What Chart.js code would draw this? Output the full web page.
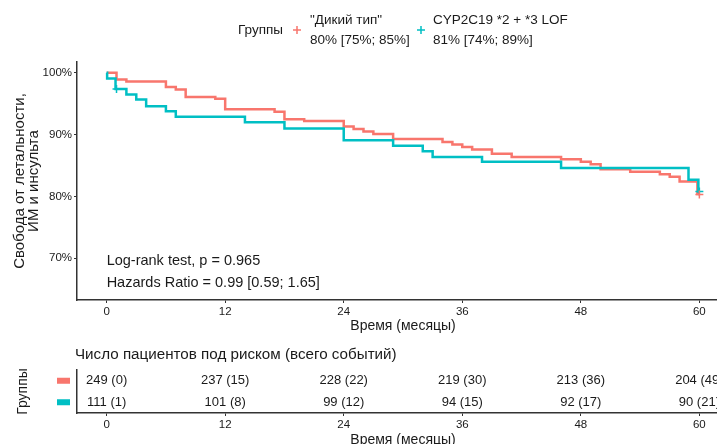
<!DOCTYPE html>
<html>
<head>
<meta charset="utf-8">
<script src="https://cdn.jsdelivr.net/npm/chart.js@4.4.1/dist/chart.umd.min.js"></script>
<style>
html, body { margin: 0; padding: 0; background: #fff; overflow: hidden; width: 717px; height: 444px; }
#main { position: absolute; left: 0; top: 0; }
#risk { position: absolute; left: 0; top: 340px; }
</style>
</head>
<body>
<canvas id="main" width="760" height="340" style="width:760px;height:340px"></canvas>
<canvas id="risk" width="760" height="120" style="width:760px;height:120px"></canvas>
<script>
// ---------- Data ----------
const groupNames = ['"Дикий тип"', 'CYP2C19 *2 + *3 LOF'];
const groupSurvText = ['80% [75%; 85%]', '81% [74%; 89%]'];

// Kaplan-Meier steps (months, % survival after the step)
const redTimes = [0, 1, 2, 6, 7, 8, 11, 12, 17, 18, 20, 24, 25, 26, 27, 29, 34, 35, 36, 37, 39, 41, 46, 48, 49, 50, 53, 56, 57, 58, 59.8, 60];
const redSurv  = [100, 98.9, 98.6, 97.7, 97.3, 96.1, 95.8, 94.1, 93.7, 92.5, 92.2, 91.3, 90.9, 90.5, 90.1, 89.3, 88.8, 88.4, 88.0, 87.6, 86.9, 86.4, 86.0, 85.6, 85.2, 84.4, 84.0, 83.6, 83.2, 82.4, 80.4, 80.4];

const cyanTimes = [0, 0.05, 0.9, 2, 3, 4, 6, 7, 14, 18, 24, 29, 32, 33, 38, 46, 58.9, 59.9, 60];
const cyanSurv  = [100, 99.1, 97.4, 96.5, 95.7, 94.6, 93.8, 92.9, 92.0, 91.0, 89.1, 88.2, 87.3, 86.4, 85.6, 84.6, 82.7, 80.8, 80.8];

// censored marks
const redCensorTimes = [60];
const redCensorSurv = [80.3];
const cyanCensorTimes = [1, 60];
const cyanCensorSurv = [97.4, 80.8];

const xTicks = [0, 12, 24, 36, 48, 60];
const yTicks = [70, 80, 90, 100];

// risk table
const riskRed = [249, 237, 228, 219, 213, 204];
const eventsRed = [0, 15, 22, 30, 36, 49];
const riskCyan = [111, 101, 99, 94, 92, 90];
const eventsCyan = [1, 8, 12, 15, 17, 21];

const statLines = ['Log-rank test, p = 0.965', 'Hazards Ratio = 0.99 [0.59; 1.65]'];

// ---------- Styles ----------
const RED = '#F8766D';
const CYAN = '#00BFC4';
const FONT = "'Liberation Sans', Arial, sans-serif";
const TXT = '#1a1a1a';
const AXIS = '#333333';

function pts(xs, ys) { return xs.map((x, i) => ({ x: x, y: ys[i] })); }

function drawPlus(ctx, x, y, r, color) {
    ctx.save();
    ctx.strokeStyle = color;
    ctx.lineWidth = 1.5;
    ctx.beginPath();
    ctx.moveTo(x - r, y); ctx.lineTo(x + r, y);
    ctx.moveTo(x, y - r); ctx.lineTo(x, y + r);
    ctx.stroke();
    ctx.restore();
}

// ---------- Main chart ----------
const mainDecor = {
    id: 'mainDecor',
    afterDraw(chart) {
        const ctx = chart.ctx;
        const xs = chart.scales.x;
        ctx.save();
        ctx.fillStyle = TXT;
        ctx.textBaseline = 'middle';
        ctx.textAlign = 'left';
        ctx.font = '13.5px ' + FONT;
        ctx.fillText('Группы', 238, 30);
        drawPlus(ctx, 297, 30, 4, RED);
        ctx.fillStyle = TXT;
        ctx.fillText(groupNames[0], 310, 20);
        ctx.fillText(groupSurvText[0], 310, 40);
        drawPlus(ctx, 421, 30, 4, CYAN);
        ctx.fillStyle = TXT;
        ctx.fillText(groupNames[1], 433, 20);
        ctx.fillText(groupSurvText[1], 433, 40);

        // stats text
        ctx.font = '14.5px ' + FONT;
        const x0 = xs.getPixelForValue(0);
        ctx.fillText(statLines[0], x0, chart.chartArea.bottom - 39);
        ctx.fillText(statLines[1], x0, chart.chartArea.bottom - 17);
        ctx.restore();
    }
};

new Chart(document.getElementById('main'), {
    type: 'line',
    data: {
        datasets: [
            { data: pts(redTimes, redSurv), borderColor: RED, borderWidth: 2.5, stepped: 'before', pointRadius: 0, fill: false, order: 2 },
            { data: pts(cyanTimes, cyanSurv), borderColor: CYAN, borderWidth: 2.5, stepped: 'before', pointRadius: 0, fill: false, order: 1 },
            { data: pts(redCensorTimes, redCensorSurv), showLine: false, pointStyle: 'cross', pointRadius: 4, borderColor: RED, borderWidth: 1.5, order: 0 },
            { data: pts(cyanCensorTimes, cyanCensorSurv), showLine: false, pointStyle: 'cross', pointRadius: 4, borderColor: CYAN, borderWidth: 1.5, order: 0 }
        ]
    },
    options: {
        responsive: false,
        animation: false,
        devicePixelRatio: 1,
        layout: { padding: { top: 62, right: 31, left: 0, bottom: 0 } },
        plugins: { legend: { display: false }, tooltip: { enabled: false } },
        scales: {
            x: {
                type: 'linear', min: -3, max: 63,
                afterBuildTicks: s => { s.ticks = xTicks.map(v => ({ value: v })); },
                afterFit: s => { s.height = 40; },
                ticks: { font: { family: FONT, size: 11.5 }, color: TXT, padding: 1.5, maxRotation: 0 },
                grid: { drawOnChartArea: false, drawTicks: true, tickLength: 3, color: AXIS },
                border: { display: true, color: AXIS, width: 1.5 },
                title: { display: true, text: 'Время (месяцы)', font: { family: FONT, size: 14 }, color: TXT, padding: { top: 0, bottom: 5 } }
            },
            y: {
                type: 'linear', min: 63.25, max: 101.75,
                afterBuildTicks: s => { s.ticks = yTicks.map(v => ({ value: v })); },
                afterFit: s => { s.width = 77; },
                ticks: { font: { family: FONT, size: 11.5 }, color: TXT, padding: 2, callback: v => v + '%' },
                grid: { drawOnChartArea: false, drawTicks: true, tickLength: 3, color: AXIS },
                border: { display: true, color: AXIS, width: 1.5 },
                title: { display: true, text: ['Свобода от летальности,', 'ИМ и инсульта'], font: { family: FONT, size: 15, lineHeight: 0.93 }, color: TXT, padding: { top: 12.5, bottom: 0 } }
            }
        }
    },
    plugins: [mainDecor]
});

// ---------- Risk table ----------
const riskDecor = {
    id: 'riskDecor',
    afterDraw(chart) {
        const ctx = chart.ctx;
        const ys = chart.scales.y;
        ctx.save();
        ctx.fillStyle = TXT;
        ctx.textBaseline = 'middle';
        ctx.textAlign = 'left';
        ctx.font = '15.2px ' + FONT;
        ctx.fillText('Число пациентов под риском (всего событий)', 75, 15);

        // colour keys as y tick labels
        [RED, CYAN].forEach((c, g) => {
            const y = ys.getPixelForValue(g);
            ctx.fillStyle = c;
            ctx.fillRect(57, y - 3, 13, 6);
        });

        // numbers at risk
        ctx.fillStyle = TXT;
        ctx.textAlign = 'center';
        ctx.font = '13px ' + FONT;
        const tables = [[riskRed, eventsRed], [riskCyan, eventsCyan]];
        chart.data.datasets.forEach((ds, g) => {
            const meta = chart.getDatasetMeta(g);
            meta.data.forEach((p, i) => {
                ctx.fillText(tables[g][0][i] + ' (' + tables[g][1][i] + ')', p.x, p.y);
            });
        });
        ctx.restore();
    }
};

new Chart(document.getElementById('risk'), {
    type: 'scatter',
    data: {
        datasets: [
            { data: xTicks.map(t => ({ x: t, y: groupNames[0] })), pointRadius: 0 },
            { data: xTicks.map(t => ({ x: t, y: groupNames[1] })), pointRadius: 0 }
        ]
    },
    options: {
        responsive: false,
        animation: false,
        devicePixelRatio: 1,
        layout: { padding: { top: 30, right: 31, left: 0, bottom: 0 } },
        plugins: { legend: { display: false }, tooltip: { enabled: false } },
        scales: {
            x: {
                type: 'linear', min: -3, max: 63,
                afterBuildTicks: s => { s.ticks = xTicks.map(v => ({ value: v })); },
                afterFit: s => { s.height = 47; },
                ticks: { font: { family: FONT, size: 11.5 }, color: TXT, padding: 2, maxRotation: 0 },
                grid: { drawOnChartArea: false, drawTicks: true, tickLength: 3, color: AXIS },
                border: { display: true, color: AXIS, width: 1.5 },
                title: { display: true, text: 'Время (месяцы)', font: { family: FONT, size: 14 }, color: TXT, padding: { top: 0, bottom: 11.6 } }
            },
            y: {
                type: 'category', labels: groupNames, offset: true,
                afterFit: s => { s.width = 77; },
                ticks: { display: false },
                grid: { drawOnChartArea: false, drawTicks: false },
                border: { display: true, color: AXIS, width: 1.5 },
                title: { display: true, text: 'Группы', font: { family: FONT, size: 14 }, color: TXT, padding: { top: 14.5, bottom: 0 } }
            }
        }
    },
    plugins: [riskDecor]
});
</script>
</body>
</html>
